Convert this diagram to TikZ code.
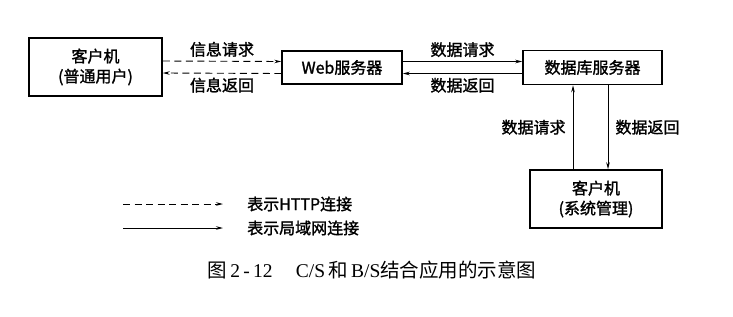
\documentclass[tikz,border=0pt]{standalone}
\usepackage{fontspec}
\setmainfont{Noto Sans CJK SC}[FakeBold=1.5]
\newfontfamily\capserif{Liberation Serif}
\newfontfamily\capsong{Noto Sans CJK SC}
\usetikzlibrary{arrows.meta,positioning}
\tikzset{
  box/.style={draw=black, line width=1.5pt, fill=white,
              inner sep=0pt, align=center, font=\fontsize{16}{20}\selectfont},
  http/.style={-{Stealth[length=7pt,width=3.5pt]}, line width=0.9pt,
               dash pattern=on 7pt off 4.5pt},
  lan/.style={-{Stealth[length=7pt,width=3.5pt]}, line width=0.9pt},
  lab/.style={font=\fontsize{16}{18}\selectfont, inner sep=1pt},
}
\begin{document}
\begin{tikzpicture}[x=1pt,y=-1pt]
  \path[use as bounding box, fill=white] (0,0) rectangle (733,316);

  % top row
  \node[box, minimum width=133pt, minimum height=58pt] (cli) at (95.5,67)
    {客户机\\(普通用户)};
  \node[box, minimum width=120pt, minimum height=33pt] (web) at (342,67.5)
    {Web服务器};
  \node[box, minimum width=139pt, minimum height=34pt] (db) at (592.5,67.5)
    {数据库服务器};
  \node[box, minimum width=132pt, minimum height=58pt] (adm) at (596,199)
    {客户机\\(系统管理)};

  % HTTP links
  \draw[http] ([yshift=6pt]cli.east) -- node[lab, above=3pt] (qreq) {信息请求}
    ([yshift=6pt]web.west);
  \draw[http] ([yshift=-6pt]web.west) -- node[lab, below=3pt] (qret) {信息返回}
    ([yshift=-6pt]cli.east);

  % LAN links
  \draw[lan] ([yshift=6pt]web.east) -- node[lab, above=3pt] (dreq) {数据请求}
    ([yshift=6pt]db.west);
  \draw[lan] ([yshift=-6pt]db.west) -- node[lab, below=3pt] (dret) {数据返回}
    ([yshift=-6pt]web.east);

  \coordinate (up) at ([xshift=-19.5pt]db.south);
  \coordinate (down) at ([xshift=15.5pt]db.south);
  \draw[lan] (adm.north -| up) -- node[lab, left=6pt] (areq) {数据请求} (up);
  \draw[lan] (down) -- node[lab, right=6pt] (aret) {数据返回} (adm.north -| down);

  % key
  \coordinate (keyA) at (123,204);
  \coordinate (keyB) at (223,204);
  \coordinate (keyC) at (123,228);
  \coordinate (keyD) at (223,228);
  \draw[http] (keyA) -- (keyB);
  \draw[lan] (keyC) -- (keyD);
  \node[lab, anchor=west] (khttp) at (246,204) {表示HTTP连接};
  \node[lab, anchor=west] (klan) at (246,228) {表示局域网连接};

  % caption
  \node[font=\fontsize{19.5}{22}\selectfont] (cap) at (372,270)
    {\capsong 图\,{\capserif 2\,-\,12}\hspace{1.2em}{\capserif C/S}\,和\,{\capserif B/S}结合应用的示意图};
\end{tikzpicture}
\end{document}
